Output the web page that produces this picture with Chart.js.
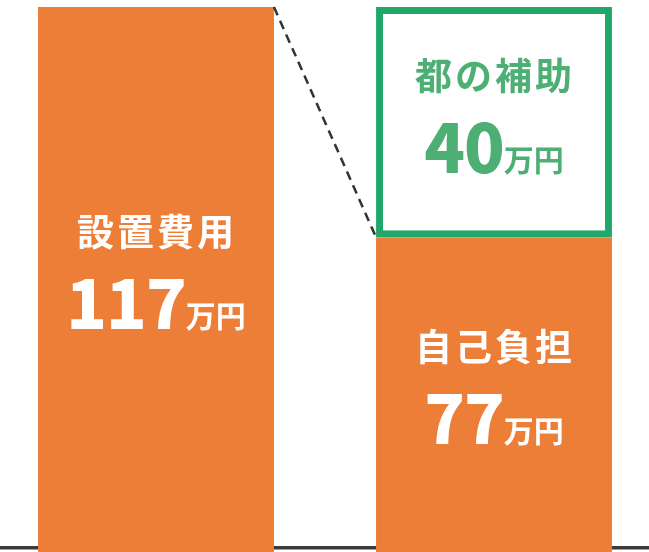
<!DOCTYPE html>
<html lang="ja">
<head>
<meta charset="utf-8">
<script src="https://cdn.jsdelivr.net/npm/chart.js@4.4.1/dist/chart.umd.min.js"></script>
<style>
  html, body { margin: 0; padding: 0; background: #fff; overflow: hidden; }
  #wrap { position: absolute; left: -13px; top: 0; width: 676px; height: 552px; }
</style>
</head>
<body>
<div id="wrap"><canvas id="chart"></canvas></div>
<script>
// data (万円)
const categories = ["設置費用", "内訳"];
const costValues = [117, 77];       // orange: total cost / own share
const subsidyValues = [null, 40];   // green box: subsidy
const costLabels = ["設置費用", "自己負担"];
const subsidyLabels = [null, "都の補助"];
const unit = "万円";

const ORANGE = "#ed7e38";
const GREEN = "#1fa869";
const GREEN_TEXT = "#4daf74";
const FONT = "'Noto Sans CJK JP', 'Noto Sans', sans-serif";

// draws the two-line labels inside each bar + the dashed connector
const labelPlugin = {
  id: "barLabels",
  afterDatasetsDraw(chart) {
    const ctx = chart.ctx;
    const costMeta = chart.getDatasetMeta(0);
    const subMeta = chart.getDatasetMeta(1);

    // dashed line from top of the total bar to top of own-share bar
    const a = costMeta.data[0].getProps(["x", "y", "width"], true);
    const b = costMeta.data[1].getProps(["x", "y", "width"], true);
    ctx.save();
    ctx.strokeStyle = "#333";
    ctx.lineWidth = 2.5;
    ctx.setLineDash([9, 6]);
    ctx.beginPath();
    ctx.moveTo(a.x + a.width / 2, a.y);
    ctx.lineTo(b.x - b.width / 2, b.y);
    ctx.stroke();
    ctx.restore();

    const drawBlock = (el, title, value, color) => {
      const p = el.getProps(["x", "y", "base"], true);
      const bottom = Math.min(p.base, chart.chartArea.bottom);
      const cy = (p.y + bottom) / 2;
      ctx.save();
      ctx.fillStyle = color;
      ctx.textBaseline = "middle";
      ctx.textAlign = "center";
      ctx.font = "bold 37px " + FONT;
      ctx.letterSpacing = "3px";
      ctx.fillText(title, p.x + 1, cy - 46);

      // number + unit on one baseline
      ctx.textBaseline = "alphabetic";
      ctx.textAlign = "left";
      const numFont = "900 67px " + FONT;
      const unitFont = "bold 30px " + FONT;
      ctx.font = numFont;
      ctx.letterSpacing = "-1px";
      const num = String(value);
      const wNum = ctx.measureText(num).width;
      ctx.font = unitFont;
      ctx.letterSpacing = "0px";
      const wUnit = ctx.measureText(unit).width;
      const x0 = p.x - (wNum + wUnit) / 2;
      const base = cy + 51;
      ctx.font = numFont;
      ctx.letterSpacing = "-1px";
      ctx.fillText(num, x0, base);
      ctx.font = unitFont;
      ctx.letterSpacing = "0px";
      ctx.fillText(unit, x0 + wNum, base - 2);
      ctx.restore();
    };

    costMeta.data.forEach((el, i) => drawBlock(el, costLabels[i], costValues[i], "#fff"));
    subMeta.data.forEach((el, i) => {
      if (subsidyValues[i] == null) return;
      drawBlock(el, subsidyLabels[i], subsidyValues[i], GREEN_TEXT);
    });
  }
};

new Chart(document.getElementById("chart"), {
  type: "bar",
  data: {
    labels: categories,
    datasets: [
      {
        data: costValues,
        backgroundColor: ORANGE,
        borderWidth: 0,
        clip: false,
        categoryPercentage: 1,
        barPercentage: 0.698
      },
      {
        data: subsidyValues,
        backgroundColor: "#fff",
        borderColor: GREEN,
        borderWidth: 7,
        borderSkipped: false,
        clip: false,
        categoryPercentage: 1,
        barPercentage: 0.698
      }
    ]
  },
  options: {
    responsive: true,
    maintainAspectRatio: false,
    animation: false,
    layout: { padding: { top: 7, bottom: 4, left: 0, right: 0 } },
    plugins: { legend: { display: false }, tooltip: { enabled: false } },
    scales: {
      x: {
        stacked: true,
        z: 1,
        ticks: { display: false },
        grid: { display: false, drawTicks: false },
        border: { display: true, color: "#3a3a3a", width: 3.5 }
      },
      y: {
        stacked: true,
        display: false,
        min: 23,
        max: 117
      }
    }
  },
  plugins: [labelPlugin]
});
</script>
</body>
</html>
